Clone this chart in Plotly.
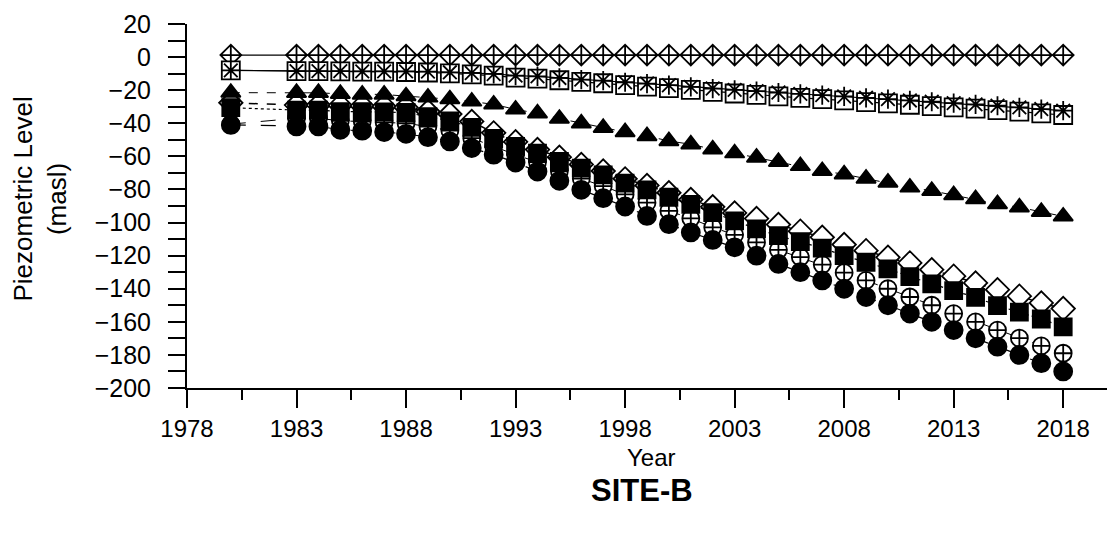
import plotly.graph_objects as go

years = [1980, 1983, 1984, 1985, 1986, 1987, 1988, 1989, 1990, 1991, 1992,
         1993, 1994, 1995, 1996, 1997, 1998, 1999, 2000, 2001, 2002,
         2003, 2004, 2005, 2006, 2007, 2008, 2009, 2010, 2011, 2012,
         2013, 2014, 2015, 2016, 2017, 2018]

top_diamond = [1.2, 1.2, 1.2, 1.2, 1.2, 1.2, 1.2, 1.2, 1.2, 1.2, 1.2,
               1.2, 1.2, 1.2, 1.2, 1.2, 1.2, 1.2, 1.2, 1.2, 1.2,
               1.2, 1.2, 1.2, 1.2, 1.2, 1.2, 1.2, 1.2, 1.2, 1.2,
               1.2, 1.2, 1.2, 1.2, 1.2, 1.2]

open_square = [-8, -8.5, -8.5, -8.6, -8.8, -8.8, -9, -9.3, -9.8, -10.5, -11.2,
               -12.4, -13, -14, -15, -15.8, -17, -17.8, -18.8, -19.8, -21,
               -22, -22.8, -23.7, -24.6, -25.4, -26.2, -27.2, -28, -28.8, -29.6,
               -30.4, -31.2, -32.1, -33, -34, -35]

asterisk = [-8, -8.5, -8.5, -8.5, -8.6, -8.6, -8.6, -8.8, -9.2, -9.6, -10.2,
            -11.2, -11.6, -12.6, -13.6, -14.2, -15.2, -16, -17, -18, -19,
            -19.8, -20.6, -21.4, -22.2, -23, -23.8, -24.6, -25.4, -26.2, -27,
            -27.8, -28.6, -29.4, -30.4, -31.4, -32.4]

triangle = [-21.5, -21.6, -21.6, -22.2, -22.6, -22.6, -23.6, -24.4, -25.4, -26.8, -28.6,
            -31.6, -34, -37.2, -40, -42.7, -45.3, -47.7, -50.7, -52.7, -55.7,
            -58.1, -60.7, -63.3, -65.8, -68.8, -70.8, -73.4, -75.8, -78.8, -80.8,
            -83.4, -85.8, -88.8, -90.8, -93.5, -96.3]

open_diamond = [-27.6, -29, -29, -29.2, -29.5, -29.8, -30.4, -32.9, -34.4, -38.9, -45.8,
                -51.2, -55.9, -60.5, -64.9, -68.9, -73.6, -77.6, -82, -86.1, -90.5,
                -94.2, -97.6, -101.2, -105.2, -108.9, -113.3, -117, -121, -124.4, -128.5,
                -132.4, -136.5, -140.6, -144.5, -148.6, -152]

filled_square = [-30.6, -32, -32, -32.9, -33, -33.2, -33.5, -36, -38.5, -42.5, -49.2,
                 -54, -58, -63.1, -67.1, -71.2, -76.2, -80.2, -84.7, -89, -94,
                 -99, -103.8, -107.9, -111.5, -115.5, -120, -124, -128, -132.7, -137.1,
                 -141.2, -145.2, -150.2, -154.2, -158.3, -163]

cross_circle = [-40.5, -37, -37, -38.5, -39, -39.5, -40, -42, -44.5, -49, -54,
                -59, -63.5, -69, -73.5, -78, -83, -88, -93, -97.5, -102.9,
                -107.4, -112, -116.5, -120.9, -125.4, -130.3, -135, -140, -145, -150,
                -155, -160, -165, -169.9, -174.6, -179]

filled_circle = [-41, -41.9, -41.9, -43.9, -44.5, -45.3, -46.4, -48.4, -51, -55, -59,
                 -63.7, -69.2, -74.8, -80.2, -85.3, -90.3, -96, -101, -106, -110.5,
                 -115, -120, -125, -130, -135, -140, -145, -150, -155, -160,
                 -165, -170, -175, -180, -185, -190]

x_tickvals = [1978, 1983, 1988, 1993, 1998, 2003, 2008, 2013, 2018]
y_tickvals = [20, 0, -20, -40, -60, -80, -100, -120, -140, -160, -180, -200]

FONT = "Liberation Sans, Arial, Helvetica, sans-serif"

# drawn bottom to top
series = [
    (top_diamond, "diamond-cross", 16, "white", "solid", 1.2),
    (open_square, "square", 18, "white", "solid", 1.2),
    (asterisk, "asterisk-open", 16, "black", "solid", 1.2),
    (open_diamond, "diamond", 18, "white", "dash", 1.5),
    (cross_circle, "circle-cross", 17, "white", "longdash", 1.0),
    (filled_square, "square", 17, "black", "dot", 1.2),
    (filled_circle, "circle", 18, "black", "longdash", 1.2),
    (triangle, "triangle-up", 17, "black", "dash", 1.0),
]

fig = go.Figure()
for vals, sym, size, fill, dash, lw in series:
    fig.add_trace(go.Scatter(
        x=years, y=vals, mode="lines+markers",
        line=dict(color="black", width=lw, dash=dash),
        marker=dict(symbol=sym, size=size, color=fill,
                    line=dict(color="black", width=1.8)),
        showlegend=False, cliponaxis=False,
    ))

fig.update_layout(
    width=1110, height=537,
    margin=dict(l=187, r=3, t=24, b=149),
    paper_bgcolor="white", plot_bgcolor="white",
    font=dict(family=FONT, size=24, color="black"),
    xaxis=dict(
        range=[1978, 2020], tickmode="array", tickvals=x_tickvals,
        ticks="outside", ticklen=18, tickwidth=2, tickcolor="black",
        showline=True, linecolor="black", linewidth=2,
        showgrid=False, zeroline=False, ticklabelstandoff=0,
        tickfont=dict(family=FONT, size=24, color="black"),
        minor=dict(dtick=2.5, tick0=1978, ticks="outside", ticklen=10,
                   tickwidth=2, tickcolor="black", showgrid=False),
    ),
    yaxis=dict(
        range=[-200, 20], tickmode="array", tickvals=y_tickvals,
        ticks="outside", ticklen=17, tickwidth=2, tickcolor="black",
        showline=True, linecolor="black", linewidth=2,
        showgrid=False, zeroline=False, ticklabelstandoff=12,
        tickfont=dict(family=FONT, size=25, color="black"),
        minor=dict(dtick=10, tick0=0, ticks="outside", ticklen=17,
                   tickwidth=2, tickcolor="black", showgrid=False),
    ),
    annotations=[
        dict(text="Piezometric Level<br>(masl)", textangle=-90,
             xref="paper", yref="paper", x=-0.16, y=0.52,
             xanchor="center", yanchor="middle", showarrow=False,
             font=dict(family=FONT, size=26, color="black")),
        dict(text="Year", xref="paper", yref="paper", x=0.505, y=-0.192,
             xanchor="center", yanchor="middle", showarrow=False,
             font=dict(family=FONT, size=24, color="black")),
        dict(text="<b>SITE-B</b>", xref="paper", yref="paper", x=0.495, y=-0.282,
             xanchor="center", yanchor="middle", showarrow=False,
             font=dict(family=FONT, size=31, color="black")),
    ],
)

fig.write_html("out.html")
